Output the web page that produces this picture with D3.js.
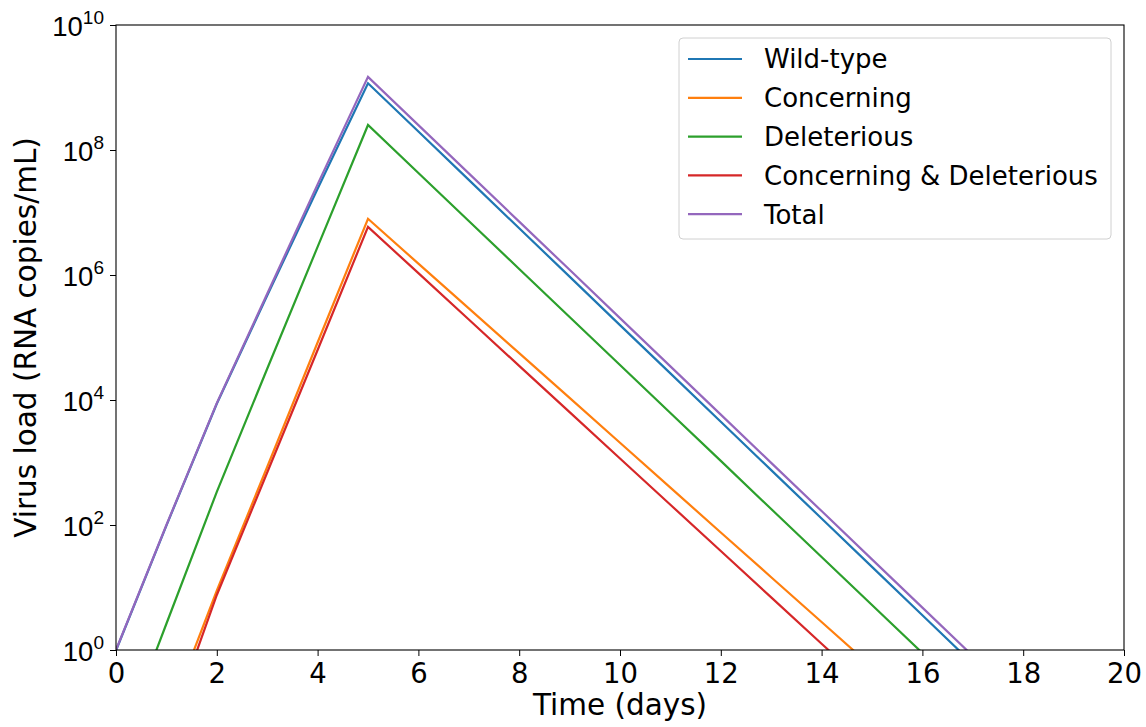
<!DOCTYPE html>
<html>
<head>
<meta charset="utf-8">
<script src="https://cdn.jsdelivr.net/npm/d3@7"></script>
<style>
  html, body { margin: 0; padding: 0; background: #fff; }
  svg { display: block; font-family: "DejaVu Sans", sans-serif; }
</style>
</head>
<body>
<svg id="chart" width="1146" height="727"></svg>
<script>
// Time points (days after infection)
const days = [0,1,2,3,4,5,6,7,8,9,10,11,12,13,14,15,16,17,18,19,20];

// Virus load per variant class (RNA copies/mL)
const wildType = [0.98, 98, 8.7e3, 4.68e5, 2.40e7, 1.17e9, 1.98e8, 3.33e7, 5.60e6, 9.42e5, 1.58e5, 2.67e4, 4.49e3, 755, 127, 21.4, 3.60, 0.605, 0.102, 0.0171, 0.00288];
const concerning = [5e-4, 0.0708, 8.91, 851, 8.32e4, 7.94e6, 1.52e6, 2.92e5, 5.61e4, 1.08e4, 2.07e3, 396, 76.0, 14.6, 2.80, 0.537, 0.103, 0.0198, 0.00379, 7.28e-4, 1.40e-4];
const deleterious = [0.02, 2.63, 339, 3.16e4, 2.82e6, 2.51e8, 4.29e7, 7.31e6, 1.25e6, 2.13e5, 3.63e4, 6.19e3, 1.06e3, 180, 30.8, 5.25, 0.895, 0.153, 0.0261, 0.00445, 7.59e-4];
const concDel = [2.5e-4, 0.0417, 7.59, 692, 6.31e4, 5.89e6, 1.07e6, 1.94e5, 3.52e4, 6.40e3, 1.16e3, 211, 38.3, 6.95, 1.26, 0.229, 0.0416, 0.00755, 0.00137, 2.49e-4, 4.52e-5];
const total = [1, 100, 8.91e3, 5.01e5, 2.82e7, 1.48e9, 2.50e8, 4.23e7, 7.14e6, 1.21e6, 2.04e5, 3.45e4, 5.83e3, 986, 167, 28.2, 4.76, 0.805, 0.136, 0.0230, 0.00389];

const seriesNames = ["Wild-type", "Concerning", "Deleterious", "Concerning & Deleterious", "Total"];
const seriesValues = [wildType, concerning, deleterious, concDel, total];
const seriesColors = ["#1f77b4", "#ff7f0e", "#2ca02c", "#d62728", "#9467bd"];

const xTicks = [0,2,4,6,8,10,12,14,16,18,20];
const yTickExps = [0,2,4,6,8,10];

const svg = d3.select("#chart");
const margin = { left: 116, right: 22, top: 25, bottom: 77 };
const W = 1146, H = 727;
const x0 = margin.left, x1 = W - margin.right;
const y0 = H - margin.bottom, y1 = margin.top;

const x = d3.scaleLinear().domain([0, 20]).range([x0, x1]);
const y = d3.scaleLog().domain([1, 1e10]).range([y0, y1]);

svg.append("defs").append("clipPath").attr("id", "plotClip")
  .append("rect").attr("x", x0).attr("y", y1).attr("width", x1 - x0).attr("height", y0 - y1);

// Lines
const line = d3.line().x(d => x(d[0])).y(d => y(d[1]));
const linesG = svg.append("g").attr("clip-path", "url(#plotClip)");
seriesValues.forEach((vals, i) => {
  linesG.append("path")
    .datum(days.map((t, k) => [t, vals[k]]))
    .attr("d", line)
    .attr("fill", "none")
    .attr("stroke", seriesColors[i])
    .attr("stroke-width", 2.2)
    .attr("stroke-linejoin", "miter");
});

// X axis
const xAxis = d3.axisBottom(x).tickValues(xTicks).tickSize(6).tickPadding(7).tickFormat(d3.format("d"));
const gx = svg.append("g").attr("transform", `translate(0,${y0})`).call(xAxis);
gx.select(".domain").remove();
gx.selectAll(".tick line").attr("stroke", "#000").attr("stroke-width", 1);
gx.selectAll(".tick text").attr("font-size", 27.5).attr("fill", "#000")
  .attr("font-family", "DejaVu Sans");

// Y axis with power-of-ten labels
const yAxis = d3.axisLeft(y).tickValues(yTickExps.map(e => Math.pow(10, e))).tickSize(6).tickFormat("");
const gy = svg.append("g").attr("transform", `translate(${x0},0)`).call(yAxis);
gy.select(".domain").remove();
gy.selectAll(".tick line").attr("stroke", "#000").attr("stroke-width", 1);
gy.selectAll(".tick").each(function(d) {
  const e = Math.round(Math.log10(d));
  const t = d3.select(this).append("text")
    .attr("x", -12).attr("y", 10)
    .attr("text-anchor", "end").attr("fill", "#000")
    .attr("font-size", 27.5);
  t.append("tspan").text("10");
  t.append("tspan").attr("dy", -12).attr("font-size", 19).text(e);
});

// Frame
svg.append("rect").attr("x", x0).attr("y", y1).attr("width", x1 - x0).attr("height", y0 - y1)
  .attr("fill", "none").attr("stroke", "#000").attr("stroke-width", 1.1);

// Axis titles
svg.append("text").attr("x", (x0 + x1) / 2).attr("y", 715)
  .attr("text-anchor", "middle").attr("font-size", 29.5).attr("fill", "#000")
  .text("Time (days)");
svg.append("text").attr("transform", `translate(36,${(y0 + y1) / 2}) rotate(-90)`)
  .attr("text-anchor", "middle").attr("font-size", 29.5).attr("fill", "#000")
  .text("Virus load (RNA copies/mL)");

// Legend
const lg = svg.append("g");
lg.append("rect").attr("x", 679).attr("y", 38).attr("width", 432).attr("height", 201)
  .attr("rx", 4).attr("fill", "#fff").attr("fill-opacity", 0.8)
  .attr("stroke", "#d0d0d0").attr("stroke-width", 1);
seriesNames.forEach((name, i) => {
  const ly = 59 + i * 38.8;
  lg.append("line").attr("x1", 688).attr("x2", 742).attr("y1", ly).attr("y2", ly)
    .attr("stroke", seriesColors[i]).attr("stroke-width", 2.2);
  lg.append("text").attr("x", 764).attr("y", ly).attr("dy", "0.36em")
    .attr("font-size", 26).attr("fill", "#000").text(name);
});
</script>
</body>
</html>
